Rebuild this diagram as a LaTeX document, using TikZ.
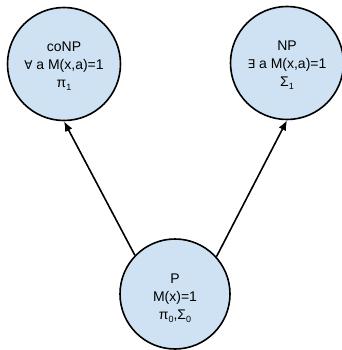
\documentclass[tikz,border=0pt]{standalone}
\usepackage{fontspec}
\setmainfont{Liberation Sans}
\newfontfamily\symf{DejaVu Sans}
\usetikzlibrary{arrows.meta}
\newcommand{\lowsub}[1]{\raisebox{-3pt}{\fontsize{9}{9}\selectfont #1}}
\tikzset{
  classnode/.style={circle, draw=black, line width=1.6pt, fill=circfill,
    minimum size=113pt, inner sep=0pt, align=center,
    font=\fontsize{14}{18}\selectfont},
  implies/.style={draw=black, line width=1.6pt, -{Latex[length=10pt,width=8pt]}}
}
\definecolor{circfill}{HTML}{CFE2F3}
\begin{document}
\begin{tikzpicture}[x=1pt,y=-1pt]
\useasboundingbox (0,0) rectangle (341,350);
\node[classnode] (coNP) at (64,64) {coNP\rule{0pt}{14pt}\\{\symf\fontsize{12}{18}\selectfont ∀} a M(x,a)=1\\π\lowsub{1}};
\node[classnode] (NP) at (287,63) {NP\rule{0pt}{14pt}\\{\symf\fontsize{12}{18}\selectfont ∃} a M(x,a)=1\\Σ\lowsub{1}};
\node[classnode, minimum size=110pt] (P) at (175,294) {P\rule{0pt}{18pt}\\M(x)=1\\π\lowsub{0},Σ\lowsub{0}};
\draw[implies] (P.136) -- (coNP.south);
\draw[implies] (P.42) -- (NP.south);
\end{tikzpicture}
\end{document}
